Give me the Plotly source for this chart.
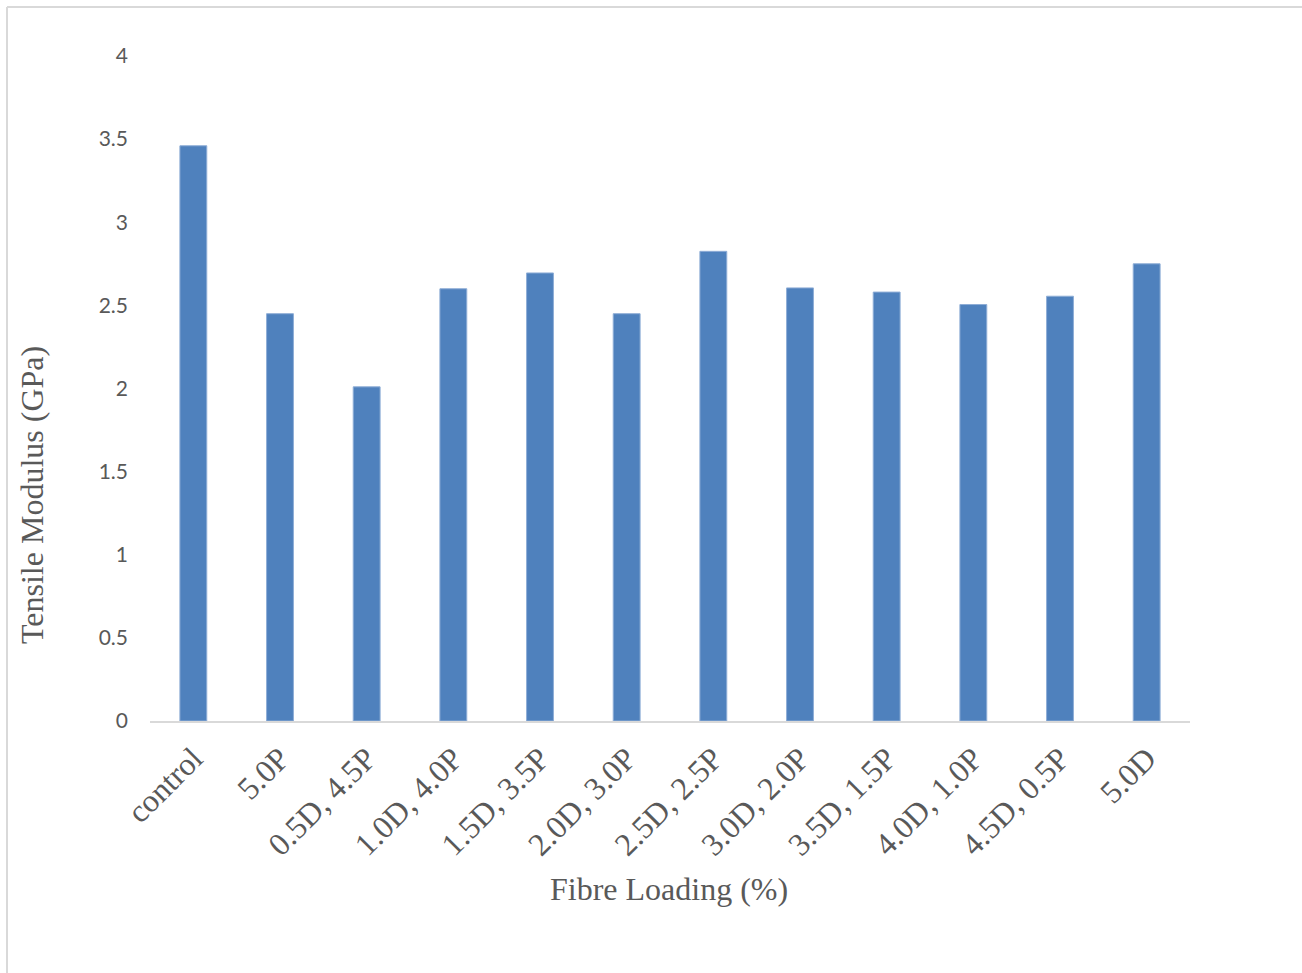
import plotly.graph_objects as go

categories = ["control", "5.0P", "0.5D, 4.5P", "1.0D, 4.0P", "1.5D, 3.5P", "2.0D, 3.0P",
              "2.5D, 2.5P", "3.0D, 2.0P", "3.5D, 1.5P", "4.0D, 1.0P", "4.5D, 0.5P", "5.0D"]
modulus = [3.46, 2.45, 2.01, 2.60, 2.695, 2.45, 2.825, 2.605, 2.58, 2.505, 2.555, 2.75]
y_ticks = [0, 0.5, 1, 1.5, 2, 2.5, 3, 3.5, 4]
y_tick_text = ["0", "0.5", "1", "1.5", "2", "2.5", "3", "3.5", "4"]

W, H = 1302, 973
L, R, T, B = 150, 112, 56, 252
pw, ph = W - L - R, H - T - B

def px_x(x):
    return (x - L) / pw

def px_y(y):
    return (H - B - y) / ph

fig = go.Figure(go.Bar(
    x=categories, y=modulus,
    marker=dict(color="#4F81BD", line=dict(color="#8EADD6", width=1)),
    width=0.31,
))

grey = "#595959"
fig.update_layout(
    width=W, height=H,
    margin=dict(l=L, r=R, t=T, b=B, autoexpand=False),
    paper_bgcolor="white", plot_bgcolor="white",
    showlegend=False,
    xaxis=dict(
        type="category", tickangle=-45, automargin=False,
        tickfont=dict(family="Liberation Serif", size=32, color=grey),
        showline=True, linecolor="#D9D9D9", linewidth=2,
        showgrid=False, ticks="", zeroline=False,
        ticklabelstandoff=4,
    ),
    yaxis=dict(
        range=[0, 4], automargin=False,
        tickvals=y_ticks, ticktext=y_tick_text,
        tickfont=dict(family="Lato", size=21, color=grey),
        showgrid=False, zeroline=False, showline=False, ticks="",
        ticklabelstandoff=21,
    ),
    annotations=[
        dict(text="Fibre Loading (%)", xref="paper", yref="paper",
             x=px_x(669), y=px_y(889), showarrow=False,
             xanchor="center", yanchor="middle",
             font=dict(family="Liberation Serif", size=32, color=grey)),
        dict(text="Tensile Modulus (GPa)", xref="paper", yref="paper",
             x=px_x(32), y=px_y(495), showarrow=False, textangle=-90,
             xanchor="center", yanchor="middle",
             font=dict(family="Liberation Serif", size=32, color=grey)),
    ],
    shapes=[
        dict(type="line", xref="paper", yref="paper", x0=px_x(7), x1=px_x(1310),
             y0=px_y(7), y1=px_y(7), line=dict(color="#D9D9D9", width=2)),
        dict(type="line", xref="paper", yref="paper", x0=px_x(7), x1=px_x(7),
             y0=px_y(7), y1=px_y(980), line=dict(color="#D9D9D9", width=2)),
    ],
)

fig.write_html("out.html")
